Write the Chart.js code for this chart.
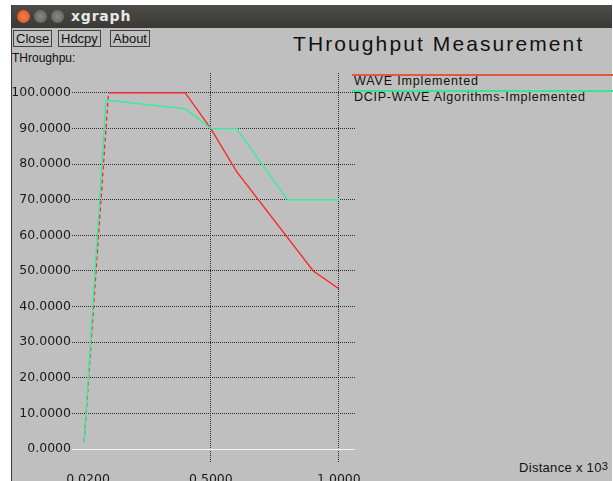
<!DOCTYPE html>
<html lang="en">

<head>
    <meta charset="UTF-8">
    <title>xgraph</title>
    <style>
        body { margin: 0; background: #fff; width: 613px; height: 481px; overflow: hidden; position: relative; font-family: "Liberation Sans", Arial, sans-serif; }
        .win { position: absolute; left: 11px; top: 5px; width: 600px; height: 476px; background: #bfbfbf; border-left: 1px solid #3a3a3a; }
        .titlebar { position: absolute; left: 0; top: 0; width: 100%; height: 23px; background: linear-gradient(#4d4c48, #3a3935); }
        .dot { position: absolute; top: 5px; width: 13px; height: 13px; border-radius: 50%; background: radial-gradient(#8a8983, #5b5a55); }
        .dot.close { background: radial-gradient(#f7834f, #d84a17); }
        .wtitle { position: absolute; left: 59px; top: 3px; color: #e8e8e8; font: bold 14px "DejaVu Sans", sans-serif; letter-spacing: 0.8px; }
        .btn { position: absolute; top: 25px; height: 15px; border: 1px solid #444; font-size: 13px; line-height: 15px; padding: 0 2px; color: #111; }
        .txt { position: absolute; color: #111; white-space: nowrap; }
        .lline { position: absolute; height: 1.5px; width: 262px; left: 352px; }
        canvas { position: absolute; left: 0; top: 0; }
    </style>
    <script src="https://cdn.jsdelivr.net/npm/chart.js"></script>
</head>

<body>
    <div class="win">
        <div class="titlebar">
            <div class="dot close" style="left:5px"></div>
            <div class="dot" style="left:22px"></div>
            <div class="dot" style="left:39px"></div>
            <div class="wtitle">xgraph</div>
        </div>
        <div class="btn" style="left:1px">Close</div>
        <div class="btn" style="left:46px">Hdcpy</div>
        <div class="btn" style="left:98px">About</div>
    </div>
    <div class="txt" style="left:293px; top:32px; font-size:21px; letter-spacing:2.1px">THroughput Measurement</div>
    <div class="txt" style="left:12px; top:51px; font-size:12px">THroughpu:</div>
    <div class="lline" style="top:74px; background:#dd5a3a"></div>
    <div class="lline" style="top:90px; background:#35e88f"></div>
    <div class="txt" style="left:354px; top:74px; font-size:12.5px; letter-spacing:0.85px">WAVE Implemented</div>
    <div class="txt" style="left:354px; top:90px; font-size:12.5px; letter-spacing:0.75px">DCIP-WAVE Algorithms-Implemented</div>
    <div class="txt" style="left:519px; top:460px; font-size:13px; letter-spacing:0.3px">Distance x 10<sup style="font-size:11px; position:relative; top:-2px; vertical-align:baseline">3</sup></div>

    <canvas id="graph" width="613" height="481"></canvas>

    <script>
        // values
        const waveX = [0.005, 0.1, 0.4, 0.5, 0.6, 0.9, 1.0];
        const waveY = [2, 100, 100, 90, 78, 50, 45];
        const dcipX = [0.005, 0.09, 0.4, 0.5, 0.6, 0.8, 1.0];
        const dcipY = [2, 98, 95.5, 90, 90, 70, 70];
        const xTicks = [0.02, 0.5, 1.0];
        const yTicks = [0, 10, 20, 30, 40, 50, 60, 70, 80, 90, 100];

        const tickFont = { family: 'DejaVu Sans', size: 12.5 };

        new Chart(document.getElementById('graph'), {
            type: 'line',
            data: {
                datasets: [
                    {
                        label: 'DCIP-WAVE Algorithms-Implemented',
                        data: dcipX.map((x, i) => ({ x: x, y: dcipY[i] })),
                        borderColor: '#2ff09a',
                        borderWidth: 1.3,
                        pointRadius: 0
                    },
                    {
                        label: 'WAVE Implemented',
                        data: waveX.map((x, i) => ({ x: x, y: waveY[i] })),
                        borderColor: '#ff2222',
                        borderWidth: 1.3,
                        borderDash: [4, 3],
                        pointRadius: 0,
                        segment: {
                            borderDash: (c) => c.p0DataIndex === 0 ? [4, 3] : []
                        }
                    }
                ]
            },
            options: {
                responsive: false,
                animation: false,
                layout: { padding: { left: 0, top: 73, right: 258, bottom: 0 } },
                plugins: { legend: { display: false }, tooltip: { enabled: false } },
                scales: {
                    x: {
                        type: 'linear',
                        min: -0.0425,
                        max: 1.063,
                        afterBuildTicks: (s) => { s.ticks = xTicks.map(v => ({ value: v })); },
                        afterFit: (s) => { s.height = 18; },
                        grid: {
                            drawTicks: false,
                            color: (c) => (c.tick && c.tick.value === 0.02) ? 'rgba(0,0,0,0)' : '#2a2a2a'
                        },
                        border: { display: false, dash: [1, 1] },
                        ticks: {
                            font: tickFont, color: '#1a1a1a', padding: 9, maxRotation: 0,
                            callback: (v) => Number(v).toFixed(4)
                        }
                    },
                    y: {
                        min: -3.93,
                        max: 105.6,
                        afterBuildTicks: (s) => { s.ticks = yTicks.map(v => ({ value: v })); },
                        afterFit: (s) => { s.width = 72; },
                        grid: {
                            drawTicks: false,
                            color: (c) => (c.tick && c.tick.value === 0) ? '#f2f2f2' : '#2a2a2a'
                        },
                        border: {
                            display: false,
                            dash: (c) => (c.tick && c.tick.value === 0) ? [] : [1, 1]
                        },
                        ticks: {
                            font: tickFont, color: '#1a1a1a', padding: 1,
                            callback: (v) => Number(v).toFixed(4)
                        }
                    }
                }
            }
        });
    </script>
</body>

</html>
